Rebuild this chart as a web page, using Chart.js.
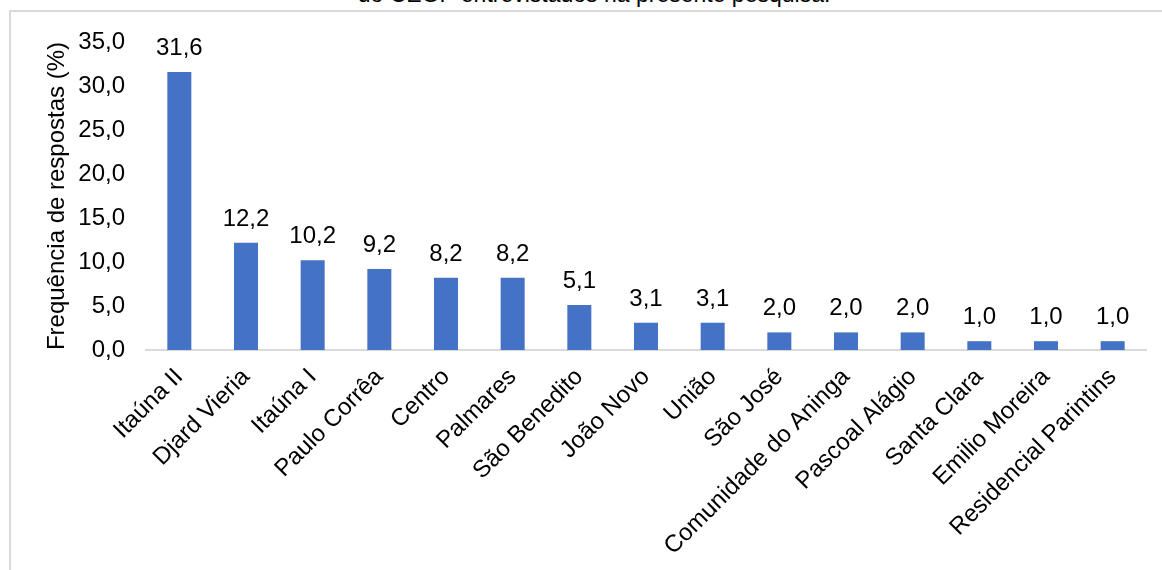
<!DOCTYPE html>
<html>
<head>
<meta charset="utf-8">
<script src="https://cdn.jsdelivr.net/npm/chart.js@4.4.0/dist/chart.umd.min.js"></script>
<style>
  body { margin: 0; background: #fff; }
  #wrap { position: relative; width: 1162px; height: 570px; overflow: hidden; }
  #caption {
    position: absolute; left: 0; width: 1188px; top: -19px;
    text-align: center; font: 23px "Liberation Sans", Arial, sans-serif; color: #000;
  }
  #frame {
    position: absolute; left: 9px; top: 10px; right: -10px; bottom: -10px;
    border-top: 2px solid #dadada; border-left: 2px solid #dadada;
  }
  canvas { position: absolute; left: 0; top: 0; }
</style>
</head>
<body>
<div id="wrap">
  <div id="caption">do CEGP entrevistados na presente pesquisa.</div>
  <div id="frame"></div>
  <canvas id="grafico" width="1162" height="570"></canvas>
</div>
<script>
// bairros e frequencias
const bairros = [
  "Itaúna II", "Djard Vieria", "Itaúna I", "Paulo Corrêa", "Centro",
  "Palmares", "São Benedito", "João Novo", "União", "São José",
  "Comunidade do Aninga", "Pascoal Alágio", "Santa Clara", "Emilio Moreira",
  "Residencial Parintins"
];
const frequencias = [31.6, 12.2, 10.2, 9.2, 8.2, 8.2, 5.1, 3.1, 3.1, 2.0, 2.0, 2.0, 1.0, 1.0, 1.0];
const yMin = 0;
const yMax = 35;
const yPasso = 5;

const fonte = { family: "'Liberation Sans', Arial, sans-serif", size: 24 };
const virgula = (v) => Number(v).toFixed(1).replace(".", ",");

// rotulos acima das barras
const rotulosPlugin = {
  id: "rotulos",
  afterDatasetsDraw(chart) {
    const ctx = chart.ctx;
    const meta = chart.getDatasetMeta(0);
    ctx.save();
    ctx.font = `${fonte.size}px ${fonte.family}`;
    ctx.fillStyle = "#000";
    ctx.textAlign = "center";
    ctx.textBaseline = "alphabetic";
    meta.data.forEach((bar, i) => {
      ctx.fillText(virgula(frequencias[i]), bar.x, bar.y - 17);
    });
    ctx.restore();
  },
};

new Chart(document.getElementById("grafico"), {
  type: "bar",
  data: {
    labels: bairros,
    datasets: [
      {
        data: frequencias,
        backgroundColor: "#4472C4",
        barPercentage: 0.36,
        categoryPercentage: 1,
      },
    ],
  },
  options: {
    responsive: false,
    animation: false,
    devicePixelRatio: 1,
    layout: { padding: { left: 43, right: 16, top: 42, bottom: 0 } },
    plugins: { legend: { display: false }, tooltip: { enabled: false } },
    scales: {
      x: {
        grid: { display: false, drawTicks: false },
        border: { display: true, color: "#d9d9d9", width: 2 },
        ticks: {
          color: "#000",
          font: fonte,
          maxRotation: 45,
          minRotation: 45,
          autoSkip: false,
          padding: 13,
        },
        afterFit: (scale) => { scale.height = 220; },
      },
      y: {
        min: yMin,
        max: yMax,
        grid: { display: false, drawTicks: false },
        border: { display: false },
        ticks: {
          stepSize: yPasso,
          color: "#000",
          font: fonte,
          padding: 21,
          callback: (v) => virgula(v),
        },
        title: {
          display: true,
          text: "Frequência de respostas (%)",
          color: "#000",
          font: fonte,
          padding: 0,
        },
        afterFit: (scale) => { scale.width = 146 - 43; },
      },
    },
  },
  plugins: [rotulosPlugin],
});
</script>
</body>
</html>
